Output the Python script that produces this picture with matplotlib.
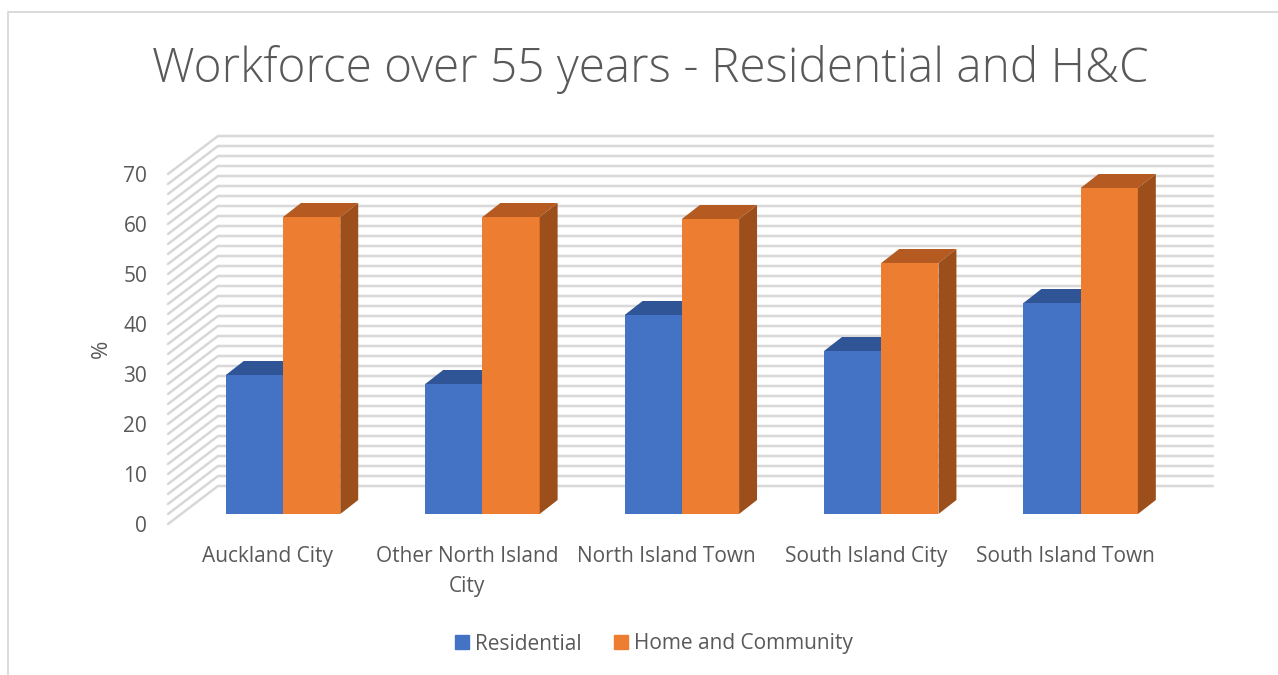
import matplotlib.pyplot as plt
from matplotlib.patches import Polygon, Patch
from matplotlib.lines import Line2D

plt.rcParams['font.family'] = ['Open Sans', 'DejaVu Sans']

# values
categories = ['Auckland City', 'Other North Island\nCity', 'North Island Town',
              'South Island City', 'South Island Town']
residential = [27.8, 26.0, 39.8, 32.6, 42.2]
home_community = [59.4, 59.4, 59.0, 50.2, 65.2]
y_ticks = [0, 10, 20, 30, 40, 50, 60, 70]
grid_levels = list(range(0, 72, 2))

W, H = 1278, 675
fig = plt.figure(figsize=(W / 100, H / 100), dpi=100)

# the axes is the front plane of the 3D box
left, right, bottom, top = 168, 1165, 524, 174
ax = fig.add_axes([left / W, 1 - bottom / H, (right - left) / W, (bottom - top) / H])
ax.set_xlim(-0.5, 4.5)
ax.set_ylim(0, 70)
ax.patch.set_visible(False)
for s in ax.spines.values():
    s.set_visible(False)

# depth of the wall and of the bars, in data units
wall_dx, wall_dy = 0.2507, 7.6
bar_dx, bar_dy = 0.09, 2.8
shift_x, shift_y = 0.077, 2.0
bar_w = 0.287

# gridlines on side and back wall
for g in grid_levels:
    xs = [-0.5, -0.5 + wall_dx, 4.5 + wall_dx - 0.01]
    ys = [g, g + wall_dy, g + wall_dy]
    ax.plot(xs, ys, color='#e2e2e2', lw=2.0, clip_on=False, zorder=1, solid_capstyle='round')
    ax.plot(xs, ys, color='#cdcdcd', lw=0.6, clip_on=False, zorder=1.1, solid_capstyle='round')


def draw_bars(xpos, vals, front, side, cap):
    ax.bar(xpos, vals, bar_w, bottom=shift_y, color=front, zorder=3, clip_on=False)
    for x0, v in zip(xpos, vals):
        xl, xr = x0 - bar_w / 2, x0 + bar_w / 2
        t = v + shift_y
        ax.add_patch(Polygon([(xl, t), (xr, t), (xr + bar_dx, t + bar_dy), (xl + bar_dx, t + bar_dy)],
                             facecolor=cap, edgecolor='none', zorder=3, clip_on=False))
        ax.add_patch(Polygon([(xr, shift_y), (xr + bar_dx, shift_y + bar_dy), (xr + bar_dx, t + bar_dy), (xr, t)],
                             facecolor=side, edgecolor='none', zorder=3, clip_on=False))


idx = list(range(len(categories)))
draw_bars([i + shift_x - bar_w / 2 for i in idx], residential, '#4472c4', '#2f5597', '#2f5597')
draw_bars([i + shift_x + bar_w / 2 for i in idx], home_community, '#ed7d31', '#9c4f1b', '#b55a20')

ax.set_yticks(y_ticks)
ax.set_xticks(idx)
ax.set_xticklabels(categories, fontsize=15, color='#595959', linespacing=1.55)
ax.tick_params(axis='both', length=0, labelsize=15, labelcolor='#595959')
ax.tick_params(axis='y', pad=15)
ax.tick_params(axis='x', pad=16)
ax.set_ylabel('%', fontsize=16, color='#595959', labelpad=8)

fig.text(650 / W, 1 - 70 / H, 'Workforce over 55 years - Residential and H&C',
         fontsize=34.4, fontweight='light', color='#595959', ha='center', va='center')

handles = [Patch(color='#4472c4', label='Residential'), Patch(color='#ed7d31', label='Home and Community')]
fig.legend(handles=handles, loc='center', bbox_to_anchor=(654 / W, 1 - 644 / H), ncol=2, frameon=False,
           fontsize=15, labelcolor='#595959', handlelength=0.67, handleheight=0.67,
           handletextpad=0.3, columnspacing=1.55)

# chart frame: only the left and top edges are in the picture
fig.add_artist(Line2D([8 / W, 8 / W, 1], [0, 1 - 12 / H, 1 - 12 / H], color='#d9d9d9', lw=1.4))

fig.savefig('out.png', dpi=100)
